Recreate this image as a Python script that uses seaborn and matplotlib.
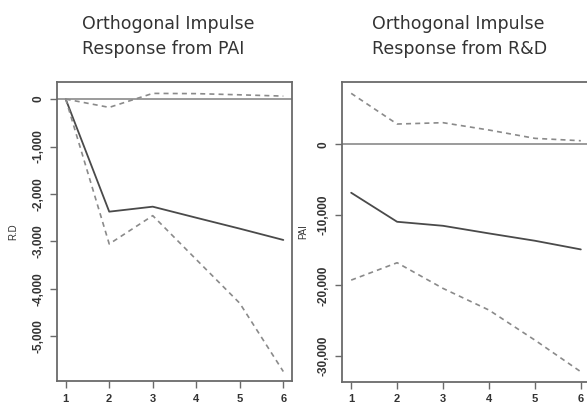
import matplotlib
matplotlib.use("Agg")
import matplotlib.pyplot as plt
import seaborn as sns
import numpy as np

steps = [1, 2, 3, 4, 5, 6]

# Left panel: response of R.D to PAI
left_irf = [0, -2372, -2267, -2500, -2730, -2968]
left_upper = [0, -175, 120, 115, 90, 63]
left_lower = [0, -3053, -2456, -3380, -4302, -5740]

# Right panel: response of PAI to R&D
right_irf = [-6865, -10980, -11550, -12630, -13670, -14900]
right_upper = [7230, 2880, 3070, 2030, 850, 510]
right_lower = [-19250, -16790, -20430, -23500, -27760, -32250]

left_yticks = [0, -1000, -2000, -3000, -4000, -5000]
right_yticks = [0, -10000, -20000, -30000]

sns.set_style("white")
plt.rcParams['font.family'] = ['Liberation Sans', 'DejaVu Sans']

W, H = 587, 407
fig = plt.figure(figsize=(W / 100, H / 100), dpi=100)

def px_axes(l, t, r, b):
    return fig.add_axes([l / W, (H - b) / H, (r - l) / W, (b - t) / H])

ax1 = px_axes(57, 82, 292, 381)
ax2 = px_axes(342, 82, 590, 382)

def draw(ax, irf, up, lo, yticks, ylim, ylabel, labx):
    sns.lineplot(x=steps, y=irf, ax=ax, color="#4a4a4a", lw=1.3)
    sns.lineplot(x=steps, y=up, ax=ax, color="#8a8a8a", lw=1.2, linestyle=(0, (3, 2.5)))
    sns.lineplot(x=steps, y=lo, ax=ax, color="#8a8a8a", lw=1.2, linestyle=(0, (3, 2.5)))
    ax.axhline(0, color="#8a8a8a", lw=1.2)
    ax.set_xlim(0.8, 6.2)
    ax.set_ylim(*ylim)
    ax.set_xticks(steps)
    ax.set_xticklabels([str(s) for s in steps], fontsize=8, fontweight="bold", color="#333333")
    ax.set_yticks(yticks)
    ax.set_yticklabels([f"{v:,}" for v in yticks], fontsize=8.5, fontweight="bold",
                       color="#333333", rotation=90, va="center")
    ax.set_ylabel(ylabel, fontsize=7, color="#333333")
    ax.yaxis.set_label_coords(labx, 0.5)
    for s in ax.spines.values():
        s.set_visible(True)
        s.set_color("#6a6a6a")
        s.set_linewidth(1.3)
    ax.tick_params(axis="x", direction="out", length=5, width=1, color="#6a6a6a",
                   bottom=True, pad=4)
    ax.tick_params(axis="y", direction="out", length=5, width=1, color="#6a6a6a",
                   left=True, pad=4)

draw(ax1, left_irf, left_upper, left_lower, left_yticks, (-5940, 360), "R.D", (18 - 57) / 235)
draw(ax2, right_irf, right_upper, right_lower, right_yticks, (-33700, 8840), "PAI", (308 - 342) / 248)

tkw = dict(fontsize=12.5, color="#333333", ha="left", va="baseline", family="DejaVu Sans")
fig.text(82 / W, 1 - 29 / H, "Orthogonal Impulse", **tkw)
fig.text(82 / W, 1 - 54 / H, "Response from PAI", **tkw)
fig.text(372 / W, 1 - 29 / H, "Orthogonal Impulse", **tkw)
fig.text(372 / W, 1 - 54 / H, "Response from R&D", **tkw)

fig.savefig("out.png", dpi=100)
